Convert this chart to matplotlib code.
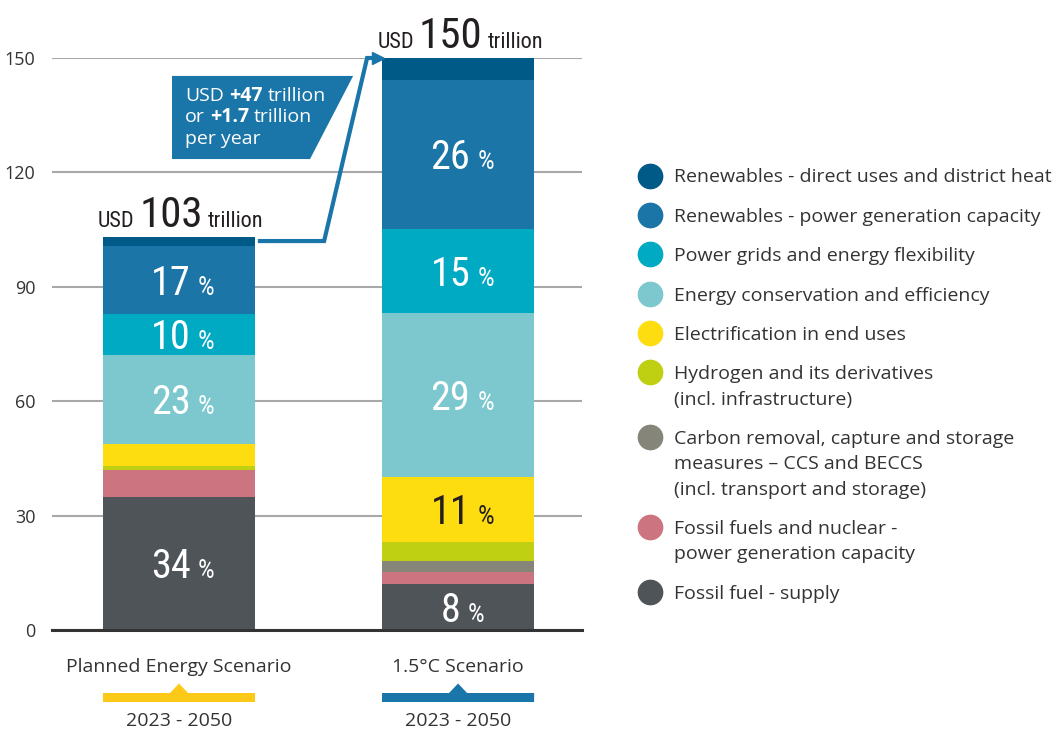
import matplotlib
matplotlib.use('Agg')
import matplotlib.pyplot as plt
from matplotlib import font_manager, transforms
from matplotlib.patches import Polygon
from matplotlib.lines import Line2D

W, H = 1059, 732

installed = {f.name for f in font_manager.fontManager.ttflist}


def pick(*names):
    for n in names:
        if n in installed:
            return n
    return 'DejaVu Sans'


BODY = pick('Open Sans', 'Lato', 'Roboto', 'DejaVu Sans')
NARROW = pick('Liberation Sans Narrow', 'Roboto Condensed', 'DejaVu Sans')

# investment by category, bottom of the stack first (USD trillion)
categories = [
    'Fossil fuel - supply',
    'Fossil fuels and nuclear -\npower generation capacity',
    'Carbon removal, capture and storage\nmeasures – CCS and BECCS\n(incl. transport and storage)',
    'Hydrogen and its derivatives\n(incl. infrastructure)',
    'Electrification in end uses',
    'Energy conservation and efficiency',
    'Power grids and energy flexibility',
    'Renewables - power generation capacity',
    'Renewables - direct uses and district heat',
]
colors = ['#4f5459', '#cc7480', '#86857a', '#bfd013', '#fedd10',
          '#7dc8ce', '#00aac3', '#1b75a7', '#005a88']

planned = [35.0, 7.0, 0.0, 1.1, 5.6, 23.5, 10.6, 18.0, 2.2]
target_15 = [12.0, 3.3, 2.9, 5.0, 17.0, 43.0, 22.0, 39.0, 5.8]

scenarios = ['Planned Energy Scenario', '1.5°C Scenario']
periods = ['2023 - 2050', '2023 - 2050']
scenario_colors = ['#fcc918', '#1a75a8']
totals = [103, 150]
extra = ('+47', '+1.7')

yticks = [0, 30, 60, 90, 120, 150]

fig = plt.figure(figsize=(W / 100, H / 100), dpi=100)
ax = fig.add_axes([52 / W, 1 - 630 / H, (582 - 52) / W, (630 - 58) / H])
renderer = fig.canvas.get_renderer()

xs = [0, 1]
bw = 0.545
stacks = [planned, target_15]

for xi, vals in zip(xs, stacks):
    bottom = 0
    for v, c in zip(vals, colors):
        ax.bar(xi, v, bottom=bottom, width=bw, color=c, linewidth=0, zorder=2)
        bottom += v

ax.set_xlim(-0.455, 1.444)
ax.set_ylim(0, 150)
ax.set_yticks(yticks)
ax.set_xticks([])
ax.yaxis.grid(True, color='#a8a8a8', linewidth=1.5)
ax.set_axisbelow(True)
for s in ax.spines.values():
    s.set_visible(False)
ax.tick_params(axis='y', length=0, pad=12, labelsize=13, labelcolor='#333333')
for lab in ax.get_yticklabels():
    lab.set_fontfamily(BODY)
ax.axhline(0, color='#333333', linewidth=2.2, zorder=3, clip_on=False)


def text_runs(x, y, parts, transform, align=0.5, zorder=6):
    # lay out differently styled pieces of text one after another on a baseline
    items = []
    for s, kw, gap in parts:
        t = fig.text(x, y, s, transform=transform, ha='left', va='baseline',
                     zorder=zorder, **kw)
        w = t.get_window_extent(renderer).width
        items.append((t, w, gap))
    total = sum(w + g for _, w, g in items) - items[-1][2]
    cursor = -align * total
    for t, w, g in items:
        t.set_transform(transforms.offset_copy(transform, fig=fig, x=cursor * 72 / fig.dpi,
                                               y=0, units='points'))
        cursor += w + g
    return items


# share labels inside the larger segments
for xi, vals in zip(xs, stacks):
    total = sum(vals)
    bottom = 0
    for v, c in zip(vals, colors):
        pct = round(v / total * 100)
        if pct >= 8:
            tc = '#231f20' if c == '#fedd10' else 'white'
            mid = bottom + v / 2
            base = transforms.offset_copy(ax.transData, fig=fig, x=4 * 0.72, y=-15 * 0.72, units='points')
            text_runs(xi, mid, [
                (str(pct), dict(fontsize=29, family=NARROW, color=tc), 7),
                ('%', dict(fontsize=19, family=NARROW, color=tc), 0),
            ], base)
        bottom += v

# totals above each bar
for xi, tot in zip(xs, totals):
    base = transforms.offset_copy(ax.transData, fig=fig, x=2 * 0.72, y=10 * 0.72, units='points')
    text_runs(xi, tot, [
        ('USD', dict(fontsize=16, family=NARROW, color='#231f20'), 5),
        (str(tot), dict(fontsize=31, family=NARROW, color='#231f20'), 5),
        ('trillion', dict(fontsize=16, family=NARROW, color='#231f20'), 0),
    ], base)

# connector from the planned total up to the 1.5°C total
blue = '#1a75a8'
ax.plot([0.29, 0.52, 0.674, 0.705], [totals[0] - 1, totals[0] - 1, totals[1], totals[1]],
        color=blue, linewidth=3, solid_joinstyle='miter', clip_on=False, zorder=5)
ax.plot([0.712], [totals[1]], marker='>', markersize=9, color=blue, clip_on=False, zorder=5)

box = Polygon([(-0.025, 145.3), (0.624, 145.3), (0.4695, 123.5), (-0.025, 123.5)],
              closed=True, facecolor=blue, edgecolor='none', clip_on=False, zorder=4)
ax.add_patch(box)

reg = dict(fontsize=14, family=BODY, color='white')
bold = dict(fontsize=14, family=BODY, color='white', fontweight='bold')
text_runs(0.0215, 138.8, [('USD', reg, 5), (extra[0], bold, 5), ('trillion', reg, 0)], ax.transData, align=0)
text_runs(0.0215, 133.2, [('or', reg, 5), (extra[1], bold, 5), ('trillion', reg, 0)], ax.transData, align=0)
text_runs(0.0215, 127.5, [('per year', reg, 0)], ax.transData, align=0)

# scenario captions with coloured markers under the axis
blend = transforms.blended_transform_factory(ax.transData, fig.transFigure)
for xi, name, per, sc in zip(xs, scenarios, periods, scenario_colors):
    fig.text(xi, 1 - 667 / H, name, transform=blend, ha='center', va='center',
             fontsize=14, family=BODY, color='#333333')
    fig.text(xi, 1 - 721 / H, per, transform=blend, ha='center', va='center',
             fontsize=14, family=BODY, color='#333333')
    hw = bw / 2
    tri = 9 / 279
    y0, y1, yt = 1 - 702 / H, 1 - 693 / H, 1 - 683.5 / H
    marker = Polygon([(xi - hw, y0), (xi + hw, y0), (xi + hw, y1), (xi + tri, y1),
                      (xi, yt), (xi - tri, y1), (xi - hw, y1)],
                     closed=True, transform=blend, facecolor=sc, edgecolor='none', clip_on=False)
    fig.add_artist(marker)

# legend, top entry first
y = 175.5
for lab, c in zip(categories[::-1], colors[::-1]):
    lines = lab.split('\n')
    fig.add_artist(Line2D([650 / W], [1 - y / H], marker='o', markersize=17.5, color=c,
                          linestyle='none', transform=fig.transFigure))
    for k, line in enumerate(lines):
        fig.text(674 / W, 1 - (y + 7 + k * 25.3) / H, line, ha='left', va='baseline',
                 fontsize=14, family=BODY, color='#333333')
    y += (len(lines) - 1) * 25.3 + 39.4

fig.savefig('out.png', dpi=100)
